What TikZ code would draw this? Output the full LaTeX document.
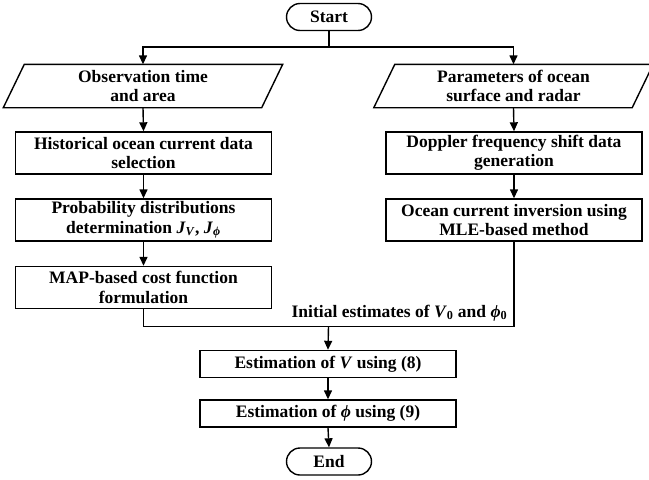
\documentclass[tikz,border=0pt]{standalone}
\usepackage{fontspec}
\setmainfont{Liberation Serif}
\usetikzlibrary{shapes.misc,arrows.meta,calc}
\tikzset{
  base/.style={font=\fontsize{17.5}{19.5}\selectfont\bfseries, align=center, inner sep=0pt, line width=1.4pt},
  procbox/.style={base, draw, rectangle, minimum width=256, minimum height=42},
  smallbox/.style={base, draw, rectangle, minimum width=256, minimum height=27},
  term/.style={base, draw, rounded rectangle, minimum width=85, minimum height=27},
  iobox/.style={base, rectangle, minimum width=257, minimum height=42},
  conn/.style={line width=1.4pt},
  arr/.style={conn, -{Triangle[length=9pt,width=8pt]}}
}
\newcommand{\myphi}{\textit{ϕ}}
\begin{document}
\begin{tikzpicture}[x=1pt,y=-1pt]
\useasboundingbox (0,0) rectangle (649,480);
% nodes
\node[term] (start) at (329,17) {Start};
\node[iobox] (obs) at (143,86) {Observation time\\and area};
\node[iobox] (par) at (513.5,86) {Parameters of ocean\\surface and radar};
\node[procbox] (hist) at (143.5,153) {Historical ocean current data\\selection};
\node[procbox] (dop) at (514,153) {Doppler frequency shift data\\generation};
\node[procbox] (prob) at (143.5,220) {Probability distributions\\determination \textit{J}\textsubscript{\textit{V}}, \textit{J}\textsubscript{\myphi}};
\node[procbox] (mle) at (514,220) {Ocean current inversion using\\MLE-based method};
\node[procbox] (map) at (143.5,287.5) {MAP-based cost function\\formulation};
\node[smallbox] (estv) at (328,364) {Estimation of \textit{V} using (8)};
\node[smallbox] (estp) at (328,413.5) {Estimation of \myphi{} using (9)};
\node[term] (end) at (329,461.5) {End};
% parallelograms
\foreach \n in {obs,par}{
  \draw[conn] ($(\n.north west)+(10.5,0)$) -- ($(\n.north east)+(10.5,0)$)
    -- ($(\n.south east)+(-10.5,0)$) -- ($(\n.south west)+(-10.5,0)$) -- cycle;
}
% coordinates
\coordinate (split) at (329,47);
\coordinate (join) at (328.5,326.5);
% connectors
\draw[conn] (start.south) -- (split);
\draw[arr] (split) -| (obs.north);
\draw[arr] (split) -| (par.north);
\draw[arr] (obs.south) -- (hist.north);
\draw[arr] (par.south) -- (dop.north);
\draw[arr] (hist.south) -- (prob.north);
\draw[arr] (dop.south) -- (mle.north);
\draw[arr] (prob.south) -- (map.north);
\draw[conn] (map.south) |- (join);
\draw[conn] (mle.south) |- (join);
\draw[arr] (join) -- (estv.north);
\draw[arr] (estv.south) -- (estp.north);
\draw[arr] (estp.south) -- (end.north);
\node[base, anchor=base east] (lbl) at (508,317) {Initial estimates of \textit{V}\textsubscript{0} and \myphi\textsubscript{0}};
\end{tikzpicture}
\end{document}
